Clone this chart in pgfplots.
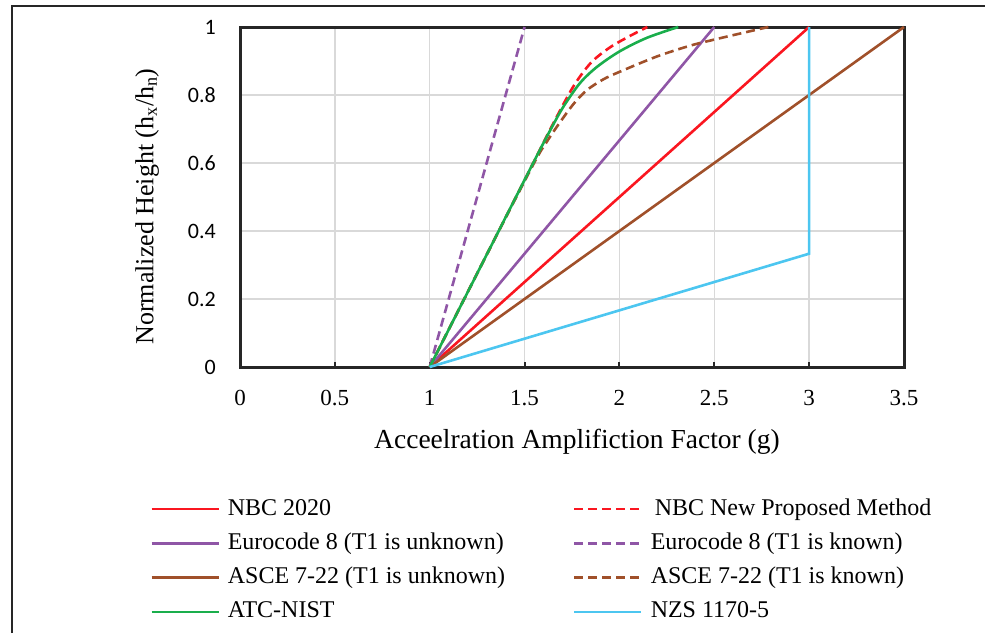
\documentclass[border=0pt]{standalone}
\usepackage{fontspec}
\setmainfont{Liberation Serif}
\newfontfamily\calibri{Carlito}
\usepackage{pgfplots}
\pgfplotsset{compat=1.18}

\definecolor{cRed}{RGB}{250,22,32}
\definecolor{cPurple}{RGB}{143,86,166}
\definecolor{cBrown}{RGB}{160,80,42}
\definecolor{cGreen}{RGB}{26,174,76}
\definecolor{cBlue}{RGB}{76,198,240}
\definecolor{cGrid}{RGB}{217,217,217}
\definecolor{cFrame}{RGB}{38,38,38}

\begin{document}
\begin{tikzpicture}
\useasboundingbox (0pt,0pt) rectangle (985pt,633pt);
% chart area border
\draw[line width=2pt, cFrame] (12pt,0pt) -- (12pt,627pt) -- (985pt,627pt);
\begin{axis}[
  at={(240pt,266pt)}, anchor=south west,
  scale only axis, width=664pt, height=340pt,
  xmin=0, xmax=3.5, ymin=0, ymax=1,
  clip=false,
  xtick={0,0.5,1,1.5,2,2.5,3,3.5},
  ytick={0,0.2,0.4,0.6,0.8,1},
  xticklabels={0,0.5,1,1.5,2,2.5,3,3.5},
  yticklabels={0,0.2,0.4,0.6,0.8,1},
  grid=major,
  major grid style={line width=1.5pt, cGrid},
  axis line style={line width=3pt, cFrame},
  tick align=inside,
  xtick pos=bottom,
  major tick length=5pt,
  xtick style={line width=2pt, cFrame},
  ytick style={draw=none},
  /pgf/number format/assume math mode=true,
  xticklabel style={font=\fontsize{23}{26}\selectfont, anchor=base, yshift=-38pt},
  yticklabel style={font=\calibri\fontsize{22}{25}\selectfont, inner sep=0pt, anchor=east, xshift=-24pt},
  xlabel={Acceelration Amplifiction Factor (g)},
  ylabel={Normalized Height (h\textsubscript{x}/h\textsubscript{n})},
  xlabel style={font=\fontsize{27.5}{31}\selectfont, at={(axis description cs:0.5075,-0.241)}, anchor=base},
  ylabel style={font=\fontsize{26}{30}\selectfont, at={(axis description cs:-0.140,0.472)}, anchor=center},
  legend columns=2,
  legend cell align=left,
  legend image code/.code={\draw[#1] (0pt,0pt) -- (67pt,0pt);},
  legend style={
    at={(-0.1355,-0.379)}, anchor=north west,
    draw=none, fill=none, inner sep=0pt,
    font=\fontsize{24}{28}\selectfont,
    row sep=8.3pt,
    nodes={inner sep=2pt, text height=17pt, text depth=5pt},
    /tikz/every odd column/.append style={column sep=6pt},
    /tikz/every even column/.append style={column sep=66pt},
  },
  every axis plot/.append style={line width=2.6pt},
]
% NBC 2020
\addplot[cRed] coordinates {(1,0) (3,1)};
\addlegendentry{NBC 2020}
% NBC new proposed method
\addplot[cRed, smooth, dash pattern=on 9pt off 5pt] coordinates {
  (1,0) (1.3,0.33) (1.55,0.605) (1.65,0.715) (1.757,0.825)
  (1.85,0.895) (1.95,0.94) (2.05,0.972) (2.147,1.0)};
\addlegendentry{\hspace{4pt}NBC New Proposed Method}
% Eurocode 8, T1 unknown
\addplot[cPurple] coordinates {(1,0) (2.5,1)};
\addlegendentry{Eurocode 8 (T1 is unknown)}
% Eurocode 8, T1 known
\addplot[cPurple, dash pattern=on 9pt off 5pt] coordinates {(1,0) (1.5,1)};
\addlegendentry{Eurocode 8 (T1 is known)}
% ASCE 7-22, T1 unknown
\addplot[cBrown] coordinates {(1,0) (3.5,1)};
\addlegendentry{ASCE 7-22 (T1 is unknown)}
% ASCE 7-22, T1 known
\addplot[cBrown, smooth, dash pattern=on 9pt off 5pt] coordinates {
  (1,0) (1.3,0.33) (1.55,0.6) (1.62,0.665) (1.687,0.72) (1.76,0.775)
  (1.83,0.815) (1.915,0.846) (2.0,0.868) (2.196,0.913) (2.372,0.945)
  (2.5,0.963) (2.653,0.983) (2.785,1.0)};
\addlegendentry{ASCE 7-22 (T1 is known)}
% ATC-NIST
\addplot[cGreen, smooth] coordinates {
  (1,0) (1.3,0.33) (1.55,0.605) (1.634,0.695) (1.704,0.765)
  (1.792,0.835) (1.88,0.882) (2.0,0.928) (2.144,0.968) (2.31,1.0)};
\addlegendentry{ATC-NIST}
% NZS 1170-5
\addplot[cBlue] coordinates {(1,0) (3,0.3333) (3,1)};
\addlegendentry{NZS 1170-5}
\end{axis}
\end{tikzpicture}
\end{document}
